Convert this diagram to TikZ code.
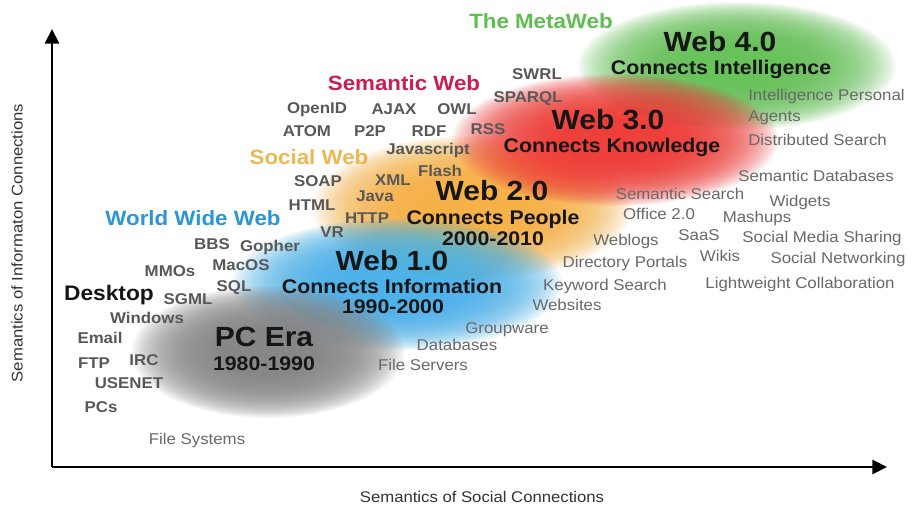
\documentclass[tikz,border=0pt]{standalone}
\usepackage{fontspec}
\setmainfont{Liberation Sans}[FakeStretch=1.08]
\usetikzlibrary{arrows.meta}

\definecolor{labelgray}{RGB}{88,88,88}
\definecolor{softgray}{RGB}{105,105,105}
\definecolor{inkblack}{RGB}{22,22,22}
\definecolor{metagreen}{RGB}{95,190,80}
\definecolor{semred}{RGB}{200,30,80}
\definecolor{socialyellow}{RGB}{236,184,80}
\definecolor{wwwblue}{RGB}{40,150,215}
\definecolor{cloudgreen}{RGB}{105,195,90}
\definecolor{cloudred}{RGB}{238,60,55}
\definecolor{cloudorange}{RGB}{246,178,70}
\definecolor{cloudblue}{RGB}{75,178,234}
\definecolor{cloudgray}{RGB}{135,135,135}

% soft era cloud: a stack of translucent concentric ellipses
% #1 colour, #2 centre x, #3 centre y, #4 x radius, #5 y radius
\newcommand\eracloud[5]{%
  \foreach \k in {1,...,40}{%
    \fill[#1, opacity=0.075] (#2,#3) ellipse ({#4*(1.05-\k*0.0185)} and {#5*(1.05-\k*0.0185)});
  }%
}

\tikzset{
  lbl/.style={font=\bfseries\fontsize{11.7}{13}\selectfont, text=labelgray, inner sep=0pt, anchor=mid},
  rlbl/.style={font=\fontsize{11.7}{13}\selectfont, text=softgray, inner sep=0pt, anchor=mid},
  era/.style={font=\bfseries\fontsize{20.8}{23}\selectfont, text=inkblack, inner sep=0pt, anchor=mid},
  tagline/.style={font=\bfseries\fontsize{14.8}{16}\selectfont, text=inkblack, inner sep=0pt, anchor=mid},
  theme/.style={font=\bfseries\fontsize{15.5}{17}\selectfont, inner sep=0pt, anchor=mid},
  axisline/.style={line width=2.2pt, draw=black, -{Triangle[length=11pt,width=10.5pt]}},
  axislabel/.style={font=\fontsize{11.6}{13}\selectfont, text=black!80, inner sep=0pt},
}

\begin{document}
\begin{tikzpicture}[x=0.75pt,y=-0.75pt]
\useasboundingbox (0,0) rectangle (914,509);
\fill[white] (0,0) rectangle (914,509);

% era clouds
\eracloud{cloudgreen}{737}{66}{154}{62}
\eracloud{cloudorange}{472}{208}{155}{70}
\eracloud{cloudred}{615}{140}{158}{64}
\eracloud{cloudblue}{397}{284}{160}{64}
\eracloud{cloudgray}{268}{352}{132}{64}

% axes
\coordinate (origin) at (52,467);
\coordinate (ytop) at (52,29);
\coordinate (xend) at (887,467);
\draw[axisline] (origin) -- (ytop);
\draw[axisline] (origin) -- (xend);
\node[axislabel] (xlabel) at (482,497) {Semantics of Social Connections};
\node[axislabel, rotate=90] (ylabel) at (17,243) {Semantics of Informaton Connections};

% theme titles
\node[theme, text=metagreen]    (metaweb)  at (541,25)  {The MetaWeb};
\node[theme, text=semred]       (semweb)   at (404,87)  {Semantic Web};
\node[theme, text=socialyellow] (socweb)   at (309,161) {Social Web};
\node[theme, text=wwwblue]      (www)      at (193,222) {World Wide Web};

% era headings
\node[era]     (web4)  at (720,48)  {Web 4.0};
\node[tagline] (web4t) at (721,71)  {Connects Intelligence};
\node[era]     (web3)  at (608,126) {Web 3.0};
\node[tagline] (web3t) at (612,149) {Connects Knowledge};
\node[era]     (web2)  at (492,197) {Web 2.0};
\node[tagline] (web2t) at (493,221) {Connects People};
\node[tagline] (web2y) at (493,242) {2000-2010};
\node[era]     (web1)  at (392,267) {Web 1.0};
\node[tagline] (web1t) at (392,290) {Connects Information};
\node[tagline] (web1y) at (393,310) {1990-2000};
\node[era]     (pcera) at (264,343) {PC Era};
\node[tagline] (pcy)   at (264,367) {1980-1990};

% semantic web technologies
\node[lbl] (swrl)    at (537,76)  {SWRL};
\node[lbl] (sparql)  at (528,99)  {SPARQL};
\node[lbl] (openid)  at (317,110) {OpenID};
\node[lbl] (ajax)    at (394,111) {AJAX};
\node[lbl] (owl)     at (457,111) {OWL};
\node[lbl] (atom)    at (307,133) {ATOM};
\node[lbl] (ptp)     at (370,133) {P2P};
\node[lbl] (rdf)     at (429,133) {RDF};
\node[lbl] (rss)     at (488,131) {RSS};
\node[lbl] (jscript) at (428,151) {Javascript};
\node[lbl] (flash)   at (440,173) {Flash};
\node[lbl] (soap)    at (318,183) {SOAP};
\node[lbl] (xml)     at (393,182) {XML};
\node[lbl] (java)    at (375,198) {Java};
\node[lbl] (html)    at (312,207) {HTML};
\node[lbl] (http)    at (367,220) {HTTP};
\node[lbl] (vr)      at (332,234) {VR};

% early web and desktop
\node[lbl] (bbs)     at (212,246) {BBS};
\node[lbl] (gopher)  at (270,248) {Gopher};
\node[lbl] (mmos)    at (170,273) {MMOs};
\node[lbl] (macos)   at (241,267) {MacOS};
\node[lbl] (sql)     at (234,288) {SQL};
\node[font=\bfseries\fontsize{15.8}{18}\selectfont, text=inkblack, inner sep=0pt, anchor=mid] (desktop) at (109,297) {Desktop};
\node[lbl] (sgml)    at (188,301) {SGML};
\node[lbl] (windows) at (147,320) {Windows};
\node[lbl] (email)   at (100,340) {Email};
\node[lbl] (ftp)     at (94,365)  {FTP};
\node[lbl] (irc)     at (144,362) {IRC};
\node[lbl] (usenet)  at (129,385) {USENET};
\node[lbl] (pcs)     at (101,409) {PCs};
\node[rlbl] (filesys) at (197,441) {File Systems};

% web 1.0 services
\node[rlbl] (keyword)   at (605,287) {Keyword Search};
\node[rlbl] (websites)  at (567,307) {Websites};
\node[rlbl] (groupware) at (507,330) {Groupware};
\node[rlbl] (databases) at (457,347) {Databases};
\node[rlbl] (fileserv)  at (423,367) {File Servers};

% web 2.0 / 3.0 / 4.0 services
\node[rlbl] (semsearch) at (680,196) {Semantic Search};
\node[rlbl] (widgets)   at (800,203) {Widgets};
\node[rlbl] (office)    at (659,216) {Office 2.0};
\node[rlbl] (mashups)   at (757,219) {Mashups};
\node[rlbl] (weblogs)   at (626,242) {Weblogs};
\node[rlbl] (saas)      at (699,237) {SaaS};
\node[rlbl] (socmedia)  at (822,239) {Social Media Sharing};
\node[rlbl] (dirport)   at (625,264) {Directory Portals};
\node[rlbl] (wikis)     at (720,258) {Wikis};
\node[rlbl] (socnet)    at (838,260) {Social Networking};
\node[rlbl] (lightw)    at (800,285) {Lightweight Collaboration};
\node[rlbl, anchor=mid west] (ipa)     at (748,97)  {Intelligence Personal};
\node[rlbl, anchor=mid west] (agents)  at (748,118) {Agents};
\node[rlbl, anchor=mid west] (dsearch) at (748,142) {Distributed Search};
\node[rlbl, anchor=mid west] (semdb)   at (738,178) {Semantic Databases};
\end{tikzpicture}
\end{document}
